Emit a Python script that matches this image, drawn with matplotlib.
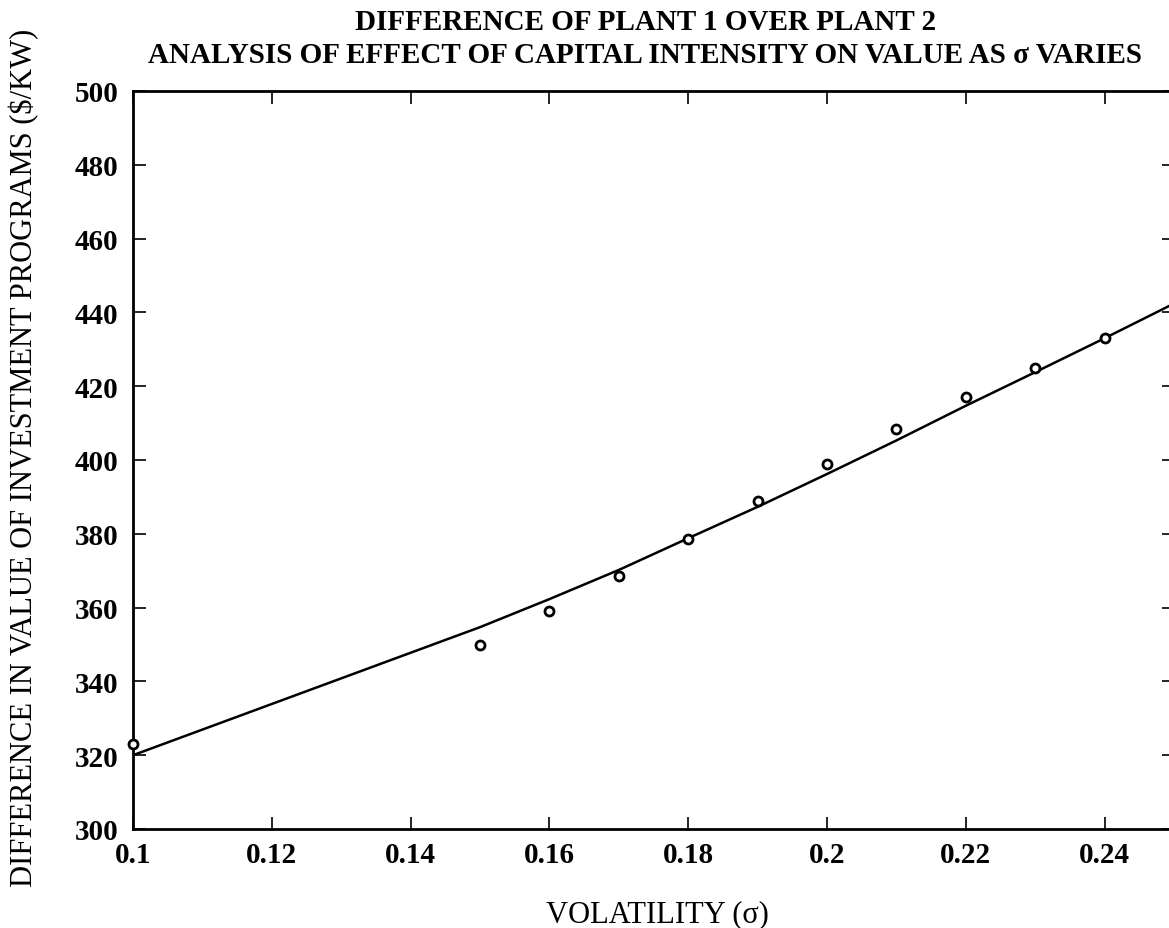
import matplotlib
matplotlib.use("Agg")
import matplotlib.pyplot as plt

plt.rcParams['font.family'] = ['Liberation Serif', 'DejaVu Serif']

# Fitted curve
curve_x = [0.10, 0.15, 0.16, 0.17, 0.18, 0.19, 0.20, 0.21, 0.22, 0.23, 0.24, 0.25]
curve_y = [320.0, 354.7, 362.3, 370.2, 378.8, 387.3, 396.2, 405.3, 414.7, 423.8, 433.0, 442.4]

# Observed points
pts_x = [0.10, 0.15, 0.16, 0.17, 0.18, 0.19, 0.20, 0.21, 0.22, 0.23, 0.24]
pts_y = [323.0, 350.0, 359.0, 368.5, 378.5, 389.0, 399.0, 408.5, 417.0, 425.0, 433.0]

xticks = [0.1, 0.12, 0.14, 0.16, 0.18, 0.2, 0.22, 0.24]
xticklabels = ['0.1', '0.12', '0.14', '0.16', '0.18', '0.2', '0.22', '0.24']
yticks = [300, 320, 340, 360, 380, 400, 420, 440, 460, 480, 500]

title1 = 'DIFFERENCE OF PLANT 1 OVER PLANT 2'
title2 = 'ANALYSIS OF EFFECT OF CAPITAL INTENSITY ON VALUE AS σ VARIES'
xlabel = 'VOLATILITY (σ)'
ylabel = 'DIFFERENCE IN VALUE OF INVESTMENT PROGRAMS ($/KW)'

fig = plt.figure(figsize=(11.69, 9.29), dpi=100)
W, H = 1169, 929
left, right, top, bottom = 133, 1174, 92, 830
ax = fig.add_axes([left / W, 1 - bottom / H, (right - left) / W, (bottom - top) / H])

ax.plot(curve_x, curve_y, color='black', lw=1.8)
ax.plot(pts_x, pts_y, linestyle='none', marker='o', ms=6.5, mfc='white', mec='black',
        mew=2, clip_on=False, zorder=5)

ax.set_xlim(0.1, 0.25)
ax.set_ylim(300, 500)
ax.set_xticks(xticks)
ax.set_xticklabels(xticklabels)
ax.set_yticks(yticks)
ax.tick_params(direction='in', length=9, width=1.2, top=True, right=True,
               labelsize=21)
ax.tick_params(axis='x', pad=9)
ax.tick_params(axis='y', pad=10.5)
for lab in ax.get_xticklabels() + ax.get_yticklabels():
    lab.set_fontweight('bold')
for sp in ax.spines.values():
    sp.set_linewidth(2)

fig.text(646 / W, 1 - 30 / H, title1, fontsize=21, fontweight='bold',
         ha='center', va='baseline')
fig.text(645 / W, 1 - 63 / H, title2, fontsize=21, fontweight='bold',
         ha='center', va='baseline')
fig.text(657 / W, 1 - 922 / H, xlabel, fontsize=22, ha='center', va='baseline')
fig.text(24 / W, 1 - 458 / H, ylabel, fontsize=22, rotation=90, ha='center', va='center')

fig.savefig('out.png', dpi=100)
